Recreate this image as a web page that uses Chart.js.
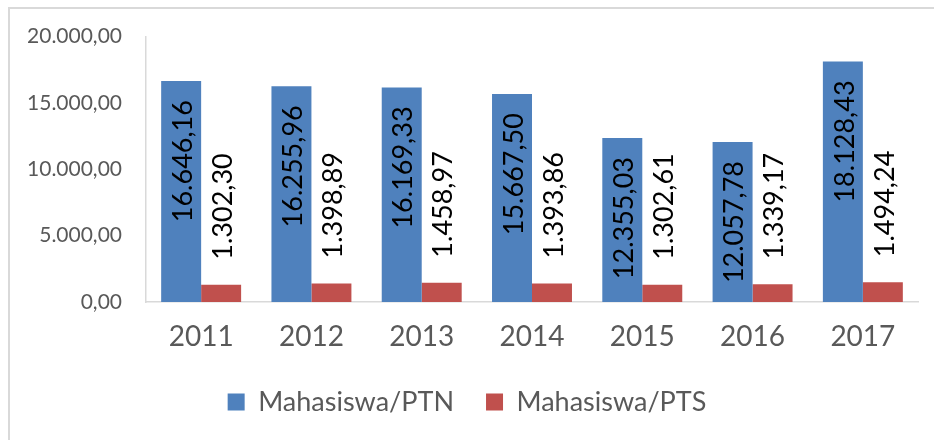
<!DOCTYPE html>
<html>
<head>
<meta charset="utf-8">
<script src="https://cdn.jsdelivr.net/npm/chart.js@4"></script>
<style>
  html, body { margin: 0; padding: 0; background: #fff; overflow: hidden; }
  #wrap { position: relative; width: 934px; height: 440px; }
  #frame { position: absolute; left: 8px; top: 7px; width: 1000px; height: 1000px;
           border-left: 2px solid #d9d9d9; border-top: 2px solid #d9d9d9; }
  canvas { position: absolute; left: 0; top: 0; }
</style>
</head>
<body>
<div id="wrap">
  <div id="frame"></div>
  <canvas id="chart" width="934" height="440"></canvas>
</div>
<script>
// Mahasiswa per PTN / PTS, 2011 - 2017
const years = ['2011', '2012', '2013', '2014', '2015', '2016', '2017'];
const ptn = [16646.16, 16255.96, 16169.33, 15667.50, 12355.03, 12057.78, 18128.43];
const pts = [1302.30, 1398.89, 1458.97, 1393.86, 1302.61, 1339.17, 1494.24];
const seriesNames = ['Mahasiswa/PTN', 'Mahasiswa/PTS'];

// Indonesian number format: 16.646,16
function fmt(v) {
    const parts = v.toFixed(2).split('.');
    return parts[0].replace(/\B(?=(\d{3})+(?!\d))/g, '.') + ',' + parts[1];
}

// Rotated value labels (inside end for PTN, outside end for PTS)
const valueLabels = {
    id: 'valueLabels',
    afterDatasetsDraw(chart) {
        const ctx = chart.ctx;
        ctx.save();
        ctx.fillStyle = '#000';
        ctx.font = '27px Lato';
        ctx.textBaseline = 'middle';
        chart.data.datasets.forEach(function(ds, i) {
            const meta = chart.getDatasetMeta(i);
            meta.data.forEach(function(bar, j) {
                ctx.save();
                if (i === 0) {
                    ctx.translate(bar.x, bar.y + 19);
                    ctx.rotate(-Math.PI / 2);
                    ctx.textAlign = 'right';
                } else {
                    ctx.translate(bar.x, bar.y - 25);
                    ctx.rotate(-Math.PI / 2);
                    ctx.textAlign = 'left';
                }
                ctx.fillText(fmt(ds.data[j]), 0, 2);
                ctx.restore();
            });
        });
        ctx.restore();
    }
};

new Chart(document.getElementById('chart'), {
    type: 'bar',
    data: {
        labels: years,
        datasets: [
            {
                label: seriesNames[0],
                data: ptn,
                backgroundColor: '#4f81bd',
                borderWidth: 0
            },
            {
                label: seriesNames[1],
                data: pts,
                backgroundColor: '#c0504d',
                borderWidth: 0
            }
        ]
    },
    options: {
        responsive: false,
        animation: false,
        datasets: {
            bar: {
                categoryPercentage: 0.725,
                barPercentage: 1.0
            }
        },
        layout: {
            padding: { left: 16, right: 16, top: 26, bottom: 14.5 }
        },
        plugins: {
            legend: {
                position: 'bottom',
                labels: {
                    color: '#595959',
                    font: { family: 'Lato', size: 27 },
                    boxWidth: 17,
                    boxHeight: 17,
                    padding: 32
                }
            },
            tooltip: { enabled: false }
        },
        scales: {
            x: {
                grid: { display: false, drawTicks: false },
                border: { display: true, color: '#d9d9d9', width: 1.5 },
                ticks: {
                    color: '#595959',
                    font: { family: 'Lato', size: 28 },
                    padding: 18
                },
                afterFit: function(scale) { scale.height = 54.5; }
            },
            y: {
                min: 0,
                max: 20000,
                grid: { display: false, drawTicks: false },
                border: { display: true, color: '#d9d9d9', width: 1.5 },
                ticks: {
                    stepSize: 5000,
                    color: '#595959',
                    font: { family: 'Lato', size: 21 },
                    padding: 24,
                    callback: function(value) { return fmt(value); }
                },
                afterFit: function(scale) { scale.width = 130; }
            }
        }
    },
    plugins: [valueLabels]
});
</script>
</body>
</html>
